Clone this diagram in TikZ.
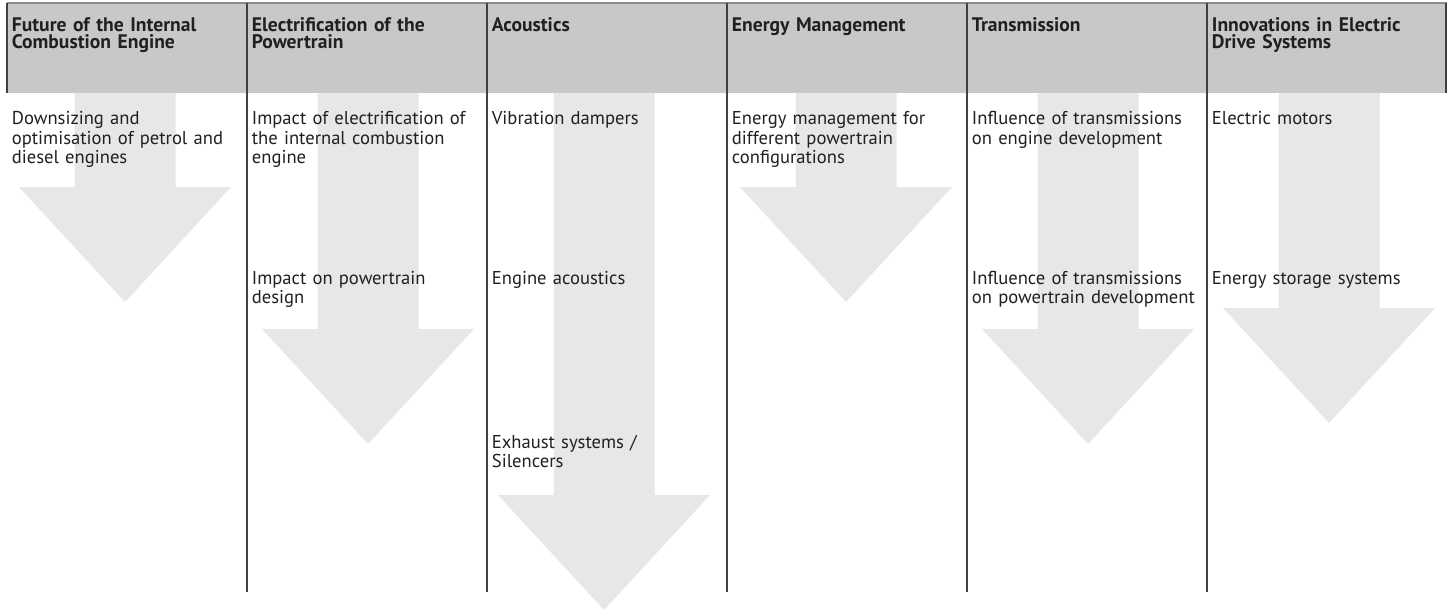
\documentclass[tikz,border=0pt]{standalone}
\usepackage{fontspec}
\setmainfont{PT Sans}
\definecolor{textgray}{HTML}{231F20}
\definecolor{headfill}{HTML}{C7C8CA}
\definecolor{arrowfill}{HTML}{E6E7E8}
\definecolor{rulegray}{HTML}{404040}
\definecolor{topgray}{HTML}{8C8C8C}
\tikzset{
    headtext/.style={anchor=base west, inner sep=0pt, text width=230pt, align=left,
        text=textgray, font=\fontsize{9.8}{8.3}\selectfont\bfseries},
    bodytext/.style={anchor=base west, inner sep=0pt, text width=230pt, align=left,
        text=textgray, font=\fontsize{9.3}{9.75}\selectfont},
    blockarrow/.style={fill=arrowfill, draw=none},
    colrule/.style={draw=rulegray, line width=0.75pt}
}
\begin{document}
\begin{tikzpicture}[x=0.5pt, y=-0.5pt]
    \useasboundingbox (0,0) rectangle (1455,610);

    % Header band
    \fill[headfill] (7,3) rectangle (1447,93);
    \draw[draw=topgray, line width=0.75pt] (7,3) -- (1447,3);
    \draw[colrule] (7,3) -- (7,93);
    \draw[colrule] (1446,3) -- (1446,93);

    % Block arrows, one per column
    \fill[blockarrow] (74.5,93) -- (175.5,93) -- (175.5,187) -- (231,187) -- (125,302) -- (19,187) -- (74.5,187) -- cycle;
    \fill[blockarrow] (317.5,93) -- (418.5,93) -- (418.5,329) -- (474,329) -- (368,444) -- (262,329) -- (317.5,329) -- cycle;
    \fill[blockarrow] (553.5,93) -- (654.5,93) -- (654.5,495) -- (710,495) -- (604,610) -- (498,495) -- (553.5,495) -- cycle;
    \fill[blockarrow] (795.5,93) -- (896.5,93) -- (896.5,187) -- (952,187) -- (846,302) -- (740,187) -- (795.5,187) -- cycle;
    \fill[blockarrow] (1037.5,93) -- (1138.5,93) -- (1138.5,329) -- (1194,329) -- (1088,444) -- (982,329) -- (1037.5,329) -- cycle;
    \fill[blockarrow] (1278.5,93) -- (1379.5,93) -- (1379.5,308) -- (1435,308) -- (1329,423) -- (1223,308) -- (1278.5,308) -- cycle;

    % Column rules
    \draw[colrule] (247,3) -- (247,592);
    \draw[colrule] (487,3) -- (487,592);
    \draw[colrule] (727,3) -- (727,592);
    \draw[colrule] (967,3) -- (967,592);
    \draw[colrule] (1207,3) -- (1207,592);

    % Column headings
    \node[headtext] (hdEngine) at (11.5,31.7) {Future of the Internal\\Combustion Engine};
    \node[headtext] (hdElectric) at (251.5,31.7) {Electrification of the\\Powertrain};
    \node[headtext] (hdAcoustics) at (491.5,31.7) {Acoustics};
    \node[headtext] (hdEnergy) at (731.5,31.7) {Energy Management};
    \node[headtext] (hdTransmission) at (971.5,31.7) {Transmission};
    \node[headtext] (hdDrives) at (1211.5,31.7) {Innovations in Electric\\Drive Systems};

    % Topics, first row
    \node[bodytext] (txDownsizing) at (11.5,125) {Downsizing and\\optimisation of petrol and\\diesel engines};
    \node[bodytext] (txImpactEngine) at (251.5,125) {Impact of electrification of\\the internal combustion\\engine};
    \node[bodytext] (txDampers) at (491.5,125) {Vibration dampers};
    \node[bodytext] (txManagement) at (731.5,125) {Energy management for\\different powertrain\\configurations};
    \node[bodytext] (txTransEngine) at (971.5,125) {Influence of transmissions\\on engine development};
    \node[bodytext] (txMotors) at (1211.5,125) {Electric motors};

    % Topics, second row
    \node[bodytext] (txImpactDesign) at (251.5,284) {Impact on powertrain\\design};
    \node[bodytext] (txEngineAcoustics) at (491.5,284) {Engine acoustics};
    \node[bodytext] (txTransPowertrain) at (971.5,284) {Influence of transmissions\\on powertrain development};
    \node[bodytext] (txStorage) at (1211.5,284) {Energy storage systems};

    % Topics, third row
    \node[bodytext] (txExhaust) at (491.5,448) {Exhaust systems /\\Silencers};
\end{tikzpicture}
\end{document}
